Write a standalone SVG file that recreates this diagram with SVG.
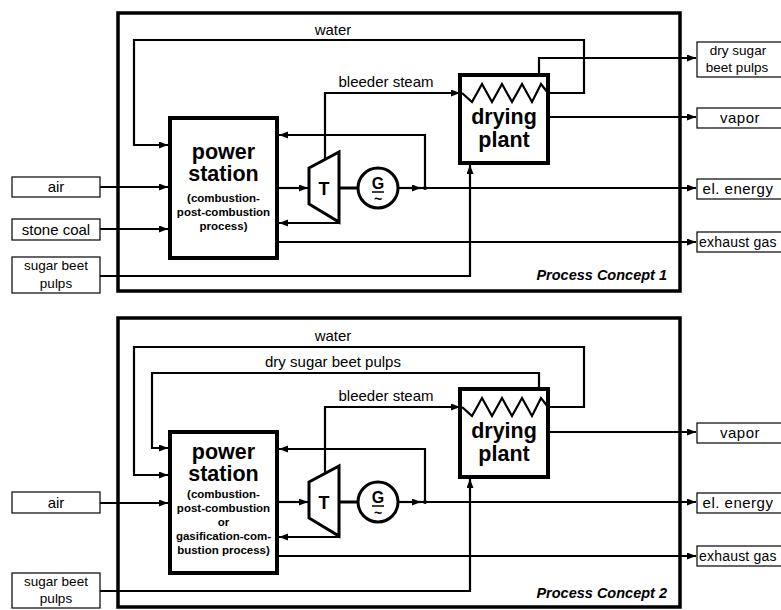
<svg xmlns="http://www.w3.org/2000/svg" width="781" height="610" viewBox="0 0 781 610">
<defs>
<marker id="arr" markerUnits="userSpaceOnUse" markerWidth="10" markerHeight="8" refX="9" refY="3.5" orient="auto">
<path d="M0,0 L9,3.5 L0,7 z" fill="#000"/>
</marker>
<style>
.frame{fill:#fff;stroke:#000;stroke-width:3.5}
.node{fill:#fff;stroke:#000;stroke-width:4}
.io{fill:#fff;stroke:#000;stroke-width:1.2}
.c{fill:none;stroke:#000;stroke-width:2.2}
.ca{fill:none;stroke:#000;stroke-width:2.2;marker-end:url(#arr)}
.zig{fill:none;stroke:#000;stroke-width:2.2;stroke-linejoin:miter}
.mach{fill:#fff;stroke:#000;stroke-width:3}
.t{font-family:"Liberation Sans",Arial,sans-serif;font-size:15px;fill:#000}
.t2{font-family:"Liberation Sans",Arial,sans-serif;font-size:13.5px;fill:#000;text-anchor:middle}
.tc{text-anchor:middle}
.big{font-family:"Liberation Sans",Arial,sans-serif;font-size:21.5px;font-weight:bold;text-anchor:middle;fill:#000}
.small{font-family:"Liberation Sans",Arial,sans-serif;font-size:11.5px;font-weight:bold;text-anchor:middle;fill:#000}
.out{font-family:"Liberation Sans",Arial,sans-serif;font-size:15px;letter-spacing:0.5px;text-anchor:middle;fill:#000}
.ex{font-family:"Liberation Sans",Arial,sans-serif;font-size:14px;letter-spacing:0.2px;fill:#000}
.title{font-family:"Liberation Sans",Arial,sans-serif;font-size:14.5px;font-weight:bold;font-style:italic;text-anchor:end;fill:#000}
.sym{font-family:"Liberation Sans",Arial,sans-serif;font-weight:bold;text-anchor:middle;fill:#000}
</style>
</defs>
<rect width="781" height="610" fill="#fff"/>

<!-- ============ Process Concept 1 ============ -->
<g id="frame-1">
<rect class="frame" x="118" y="13" width="562" height="278"/>
<text class="title" x="667" y="280">Process Concept 1</text>
</g>

<g id="connectors-1">
<path class="ca" d="M548,93 H584 V40 H134 V145 H168"/>
<path class="ca" d="M325,160 V93 H460"/>
<path class="ca" d="M539,75 V58 H696"/>
<path class="ca" d="M548,117 H696"/>
<path class="ca" d="M100,187 H168"/>
<path class="ca" d="M100,229 H168"/>
<path class="ca" d="M100,276 H470 V165"/>
<path class="ca" d="M277,188 H308"/>
<path class="ca" d="M340,223 H279"/>
<path class="ca" d="M425,188 V135 H279"/>
<path class="ca" d="M398,188 H421"/>
<path class="ca" d="M421,188 H696"/>
<circle cx="425" cy="188" r="2" fill="#000"/>
<path class="ca" d="M279,242 H696"/>
<path class="c" d="M340,188 H358" style="stroke-width:3"/>
</g>

<g id="label-water-1"><text class="t tc" x="333" y="35">water</text></g>
<g id="label-bleeder-1"><text class="t tc" x="386" y="87">bleeder steam</text></g>

<g id="power-station-1">
<rect class="node" x="170" y="118" width="107" height="140"/>
<text class="big" x="223.5" y="159">power</text>
<text class="big" x="223.5" y="181">station</text>
<text class="small" x="223.5" y="202">(combustion-</text>
<text class="small" x="223.5" y="216">post-combustion</text>
<text class="small" x="223.5" y="230">process)</text>
</g>

<g id="turbine-1">
<path class="mach" d="M309,168 L339,152 L339,222 L309,204 z"/>
<text class="sym" x="324" y="195" font-size="18">T</text>
</g>

<g id="generator-1">
<circle class="mach" cx="378" cy="188" r="20"/>
<text class="sym" x="378" y="189" font-size="16">G</text>
<line x1="372" y1="192" x2="384" y2="192" stroke="#000" stroke-width="1.5"/>
<text class="sym" x="378" y="204" font-size="14">~</text>
</g>

<g id="drying-plant-1">
<rect class="node" x="460" y="75" width="88" height="88"/>
<path class="zig" d="M462,93 L472,102 L482,84 L492,102 L502,84 L512,102 L522,84 L532,102 L541,84 L548,93"/>
<text class="big" x="504" y="124" font-size="22">drying</text>
<text class="big" x="504" y="147" font-size="22">plant</text>
</g>

<g id="in-air-1"><rect class="io" x="12" y="177" width="88" height="20"/><text class="t tc" x="56" y="192">air</text></g>
<g id="in-coal-1"><rect class="io" x="12" y="219" width="88" height="21"/><text class="t tc" x="56" y="235">stone coal</text></g>
<g id="in-pulps-1"><rect class="io" x="12" y="257" width="88" height="36"/><text class="t2" x="56" y="270">sugar beet</text><text class="t2" x="56" y="288">pulps</text></g>

<g id="out-dry-1"><rect class="io" x="697" y="42" width="95" height="35"/><text class="t2" x="738" y="55">dry sugar</text><text class="t2" x="737" y="72">beet pulps</text></g>
<g id="out-vapor-1"><rect class="io" x="697" y="108" width="95" height="20"/><text class="out" x="740" y="123">vapor</text></g>
<g id="out-el-1"><rect class="io" x="697" y="179" width="95" height="20"/><text class="out" x="738" y="194">el. energy</text></g>
<g id="out-exhaust-1"><rect class="io" x="697" y="232" width="95" height="20"/><text class="ex" x="699" y="247">exhaust gas</text></g>

<!-- ============ Process Concept 2 ============ -->
<g id="frame-2">
<rect class="frame" x="118" y="318" width="562" height="289"/>
<text class="title" x="667" y="598">Process Concept 2</text>
</g>

<g id="connectors-2">
<path class="ca" d="M548,407 H584 V347 H134 V475 H168"/>
<path class="ca" d="M539,389 V373 H152 V448 H168"/>
<path class="ca" d="M325,474 V407 H460"/>
<path class="ca" d="M548,432 H696"/>
<path class="ca" d="M100,503 H168"/>
<path class="ca" d="M100,591 H470 V479"/>
<path class="ca" d="M277,502 H308"/>
<path class="ca" d="M340,537 H279"/>
<path class="ca" d="M425,502 V449 H279"/>
<path class="ca" d="M398,502 H421"/>
<path class="ca" d="M421,502 H696"/>
<circle cx="425" cy="502" r="2" fill="#000"/>
<path class="ca" d="M279,556 H696"/>
<path class="c" d="M340,502 H358" style="stroke-width:3"/>
</g>

<g id="label-water-2"><text class="t tc" x="333" y="341">water</text></g>
<g id="label-drypulps-2"><text class="t tc" x="333" y="367">dry sugar beet pulps</text></g>
<g id="label-bleeder-2"><text class="t tc" x="386" y="401">bleeder steam</text></g>

<g id="power-station-2">
<rect class="node" x="170" y="432" width="107" height="141"/>
<text class="big" x="223.5" y="459">power</text>
<text class="big" x="223.5" y="481">station</text>
<text class="small" x="223.5" y="498">(combustion-</text>
<text class="small" x="223.5" y="512">post-combustion</text>
<text class="small" x="223.5" y="526">or</text>
<text class="small" x="223.5" y="540">gasification-com-</text>
<text class="small" x="223.5" y="554">bustion process)</text>
</g>

<g id="turbine-2">
<path class="mach" d="M309,482 L339,466 L339,536 L309,518 z"/>
<text class="sym" x="324" y="509" font-size="18">T</text>
</g>

<g id="generator-2">
<circle class="mach" cx="378" cy="502" r="20"/>
<text class="sym" x="378" y="503" font-size="16">G</text>
<line x1="372" y1="506" x2="384" y2="506" stroke="#000" stroke-width="1.5"/>
<text class="sym" x="378" y="518" font-size="14">~</text>
</g>

<g id="drying-plant-2">
<rect class="node" x="460" y="389" width="88" height="88"/>
<path class="zig" d="M462,407 L472,416 L482,398 L492,416 L502,398 L512,416 L522,398 L532,416 L541,398 L548,407"/>
<text class="big" x="504" y="438" font-size="22">drying</text>
<text class="big" x="504" y="461" font-size="22">plant</text>
</g>

<g id="in-air-2"><rect class="io" x="12" y="492" width="88" height="21"/><text class="t tc" x="56" y="508">air</text></g>
<g id="in-pulps-2"><rect class="io" x="12" y="573" width="88" height="35"/><text class="t2" x="56" y="586">sugar beet</text><text class="t2" x="56" y="603">pulps</text></g>

<g id="out-vapor-2"><rect class="io" x="697" y="423" width="95" height="20"/><text class="out" x="740" y="438">vapor</text></g>
<g id="out-el-2"><rect class="io" x="697" y="493" width="95" height="20"/><text class="out" x="738" y="508">el. energy</text></g>
<g id="out-exhaust-2"><rect class="io" x="697" y="546" width="95" height="20"/><text class="ex" x="699" y="561">exhaust gas</text></g>
</svg>
